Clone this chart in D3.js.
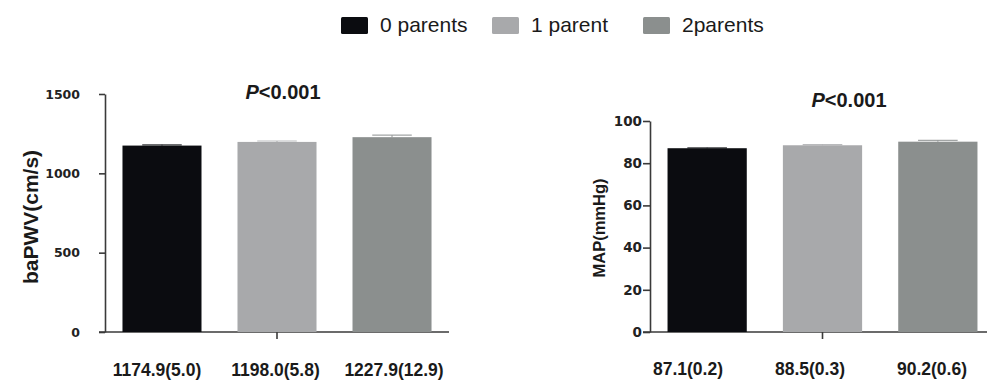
<!DOCTYPE html>
<html>
<head>
<meta charset="utf-8">
<script src="https://cdn.jsdelivr.net/npm/d3@7"></script>
<style>
  body { margin: 0; background: #fff; }
  svg { display: block; }
</style>
</head>
<body>
<div id="chart-area"></div>
<script>
const categories = ["0 parents", "1 parent", "2parents"];
const colors = ["#0b0c10", "#a8a9ab", "#8b8f8e"];

const bapwvMean = [1174.9, 1198.0, 1227.9];
const bapwvSE = [5.0, 5.8, 12.9];
const bapwvTicks = [0, 500, 1000, 1500];

const mapMean = [87.1, 88.5, 90.2];
const mapSE = [0.2, 0.3, 0.6];
const mapTicks = [0, 20, 40, 60, 80, 100];

const width = 987;
const height = 380;

const svg = d3.select("#chart-area")
  .append("svg")
    .attr("width", width)
    .attr("height", height);

// legend
const legend = svg.append("g")
  .attr("transform", "translate(341, 17)");

categories.forEach((c, i) => {
  const item = legend.append("g")
    .attr("transform", `translate(${i * 151}, 0)`);
  item.append("rect")
    .attr("width", 27)
    .attr("height", 17)
    .attr("rx", 1.5)
    .attr("fill", colors[i]);
  item.append("text")
    .attr("x", 39)
    .attr("y", 15)
    .attr("font-family", "Liberation Sans, Arial, sans-serif")
    .attr("font-size", "21px")
    .attr("fill", "#1a1a1a")
    .text(c);
});

function drawPanel(opts) {
  const means = opts.means;
  const ses = opts.ses;

  const y = d3.scaleLinear()
    .domain([0, opts.max])
    .range([332, opts.top]);

  const x = d3.scaleBand()
    .domain(categories)
    .range([opts.left, opts.right])
    .paddingInner(0.313)
    .paddingOuter(0.152);

  const g = svg.append("g");

  // y axis
  const yAxisCall = d3.axisLeft(y)
    .tickValues(opts.ticks)
    .tickFormat(d3.format("d"))
    .tickSize(opts.tickLen)
    .tickSizeOuter(0)
    .tickPadding(opts.tickPad);

  const yAxis = g.append("g")
    .attr("transform", `translate(${opts.left}, 0)`)
    .call(yAxisCall);
  yAxis.select(".domain").attr("stroke", "#3a3a3a").attr("stroke-width", 1.6);
  yAxis.selectAll(".tick line").attr("stroke", "#3a3a3a").attr("stroke-width", 1.6);
  yAxis.selectAll(".tick text")
    .attr("font-family", "DejaVu Sans, sans-serif")
    .attr("font-weight", "bold")
    .attr("font-size", opts.tickFont)
    .attr("fill", "#222");

  // x axis line with single centre tick
  g.append("line")
    .attr("x1", opts.left - opts.tickLen)
    .attr("x2", opts.right)
    .attr("y1", y(0))
    .attr("y2", y(0))
    .attr("stroke", "#3a3a3a")
    .attr("stroke-width", 1.6);

  const mid = x(categories[1]) + x.bandwidth() / 2;
  g.append("line")
    .attr("x1", mid)
    .attr("x2", mid)
    .attr("y1", y(0))
    .attr("y2", y(0) + 7)
    .attr("stroke", "#3a3a3a")
    .attr("stroke-width", 1.6);

  // bars
  g.selectAll("rect.bar")
    .data(means)
    .enter()
    .append("rect")
      .attr("class", "bar")
      .attr("x", (d, i) => x(categories[i]))
      .attr("y", d => y(d))
      .attr("width", x.bandwidth())
      .attr("height", d => y(0) - y(d))
      .attr("fill", (d, i) => colors[i]);

  // error bars (SE), drawn faintly like the original
  means.forEach((m, i) => {
    const cx = x(categories[i]) + x.bandwidth() / 2;
    const capW = x.bandwidth() / 2;
    g.append("line")
      .attr("x1", cx).attr("x2", cx)
      .attr("y1", y(m)).attr("y2", y(m + ses[i]))
      .attr("stroke", colors[i]).attr("stroke-opacity", 0.8).attr("stroke-width", 1.2);
    g.append("line")
      .attr("x1", cx - capW / 2).attr("x2", cx + capW / 2)
      .attr("y1", y(m + ses[i])).attr("y2", y(m + ses[i]))
      .attr("stroke", colors[i]).attr("stroke-opacity", 0.8).attr("stroke-width", 1.2);
  });

  // value labels under bars
  const lx = d3.scalePoint()
    .domain(categories)
    .range(opts.labelRange);

  g.selectAll("text.val")
    .data(means)
    .enter()
    .append("text")
      .attr("class", "val")
      .attr("x", (d, i) => lx(categories[i]))
      .attr("y", opts.labelY)
      .attr("text-anchor", "middle")
      .attr("font-family", "Liberation Sans, Arial, sans-serif")
      .attr("font-weight", "bold")
      .attr("font-size", "17.5px")
      .attr("fill", "#1a1a1a")
      .text((d, i) => d.toFixed(1) + "(" + ses[i].toFixed(1) + ")");

  // p value
  const p = g.append("text")
    .attr("x", opts.pX)
    .attr("y", opts.pY)
    .attr("text-anchor", "middle")
    .attr("font-family", "Liberation Sans, Arial, sans-serif")
    .attr("font-weight", "bold")
    .attr("font-size", "20px")
    .attr("fill", "#1a1a1a");
  p.append("tspan").attr("font-style", "italic").text("P");
  p.append("tspan").text("<0.001");

  // y label
  g.append("text")
    .attr("transform", `translate(${opts.yLabelX}, ${opts.yLabelY}) rotate(-90)`)
    .attr("text-anchor", "middle")
    .attr("font-family", "Liberation Sans, Arial, sans-serif")
    .attr("font-weight", "bold")
    .attr("font-size", opts.yLabelFont)
    .attr("fill", "#1a1a1a")
    .text(opts.yLabel);
}

drawPanel({
  means: bapwvMean, ses: bapwvSE, ticks: bapwvTicks, max: 1500,
  top: 94, left: 105, right: 449,
  tickLen: 6, tickPad: 19, tickFont: "12.5px",
  labelRange: [157, 394], labelY: 376,
  pX: 283, pY: 99,
  yLabel: "baPWV(cm/s)", yLabelX: 37.5, yLabelY: 217, yLabelFont: "21px"
});

drawPanel({
  means: mapMean, ses: mapSE, ticks: mapTicks, max: 100,
  top: 121, left: 650, right: 995,
  tickLen: 7, tickPad: 1, tickFont: "13.5px",
  labelRange: [688, 932], labelY: 375,
  pX: 849, pY: 107,
  yLabel: "MAP(mmHg)", yLabelX: 604.5, yLabelY: 228, yLabelFont: "16.5px"
});
</script>
</body>
</html>
